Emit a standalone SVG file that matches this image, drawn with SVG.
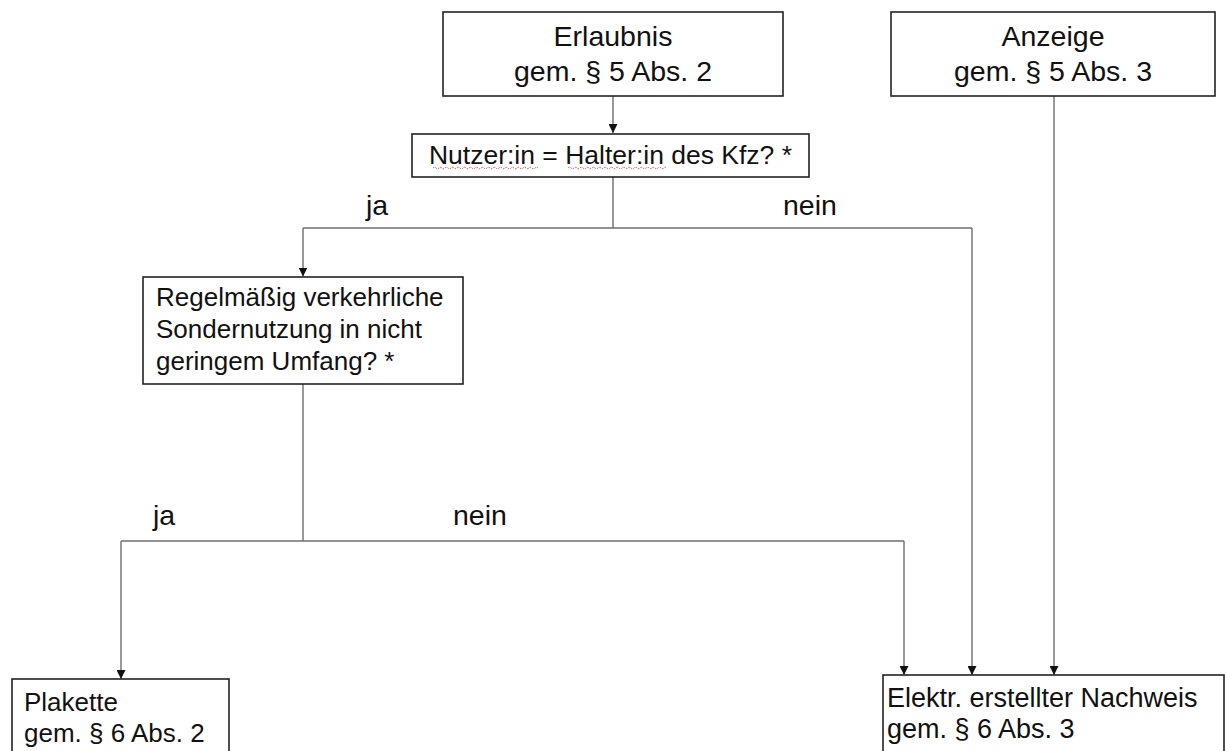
<svg xmlns="http://www.w3.org/2000/svg" width="1225" height="751" viewBox="0 0 1225 751">
<defs>
<marker id="arr" viewBox="0 0 10 10" refX="10" refY="5" markerWidth="9" markerHeight="9" markerUnits="userSpaceOnUse" orient="auto">
<path d="M0,0 L10,5 L0,10 Z" fill="#111"/>
</marker>
</defs>
<style>
.box{fill:#fff;stroke:#222;stroke-width:1.6}
.t{font-family:"Liberation Sans",Arial,sans-serif;fill:#111}
.big{font-size:28.5px}
.mid{font-size:26.5px}
.lg{font-size:27px}
.sm{font-size:26px}
.c{text-anchor:middle}
.con{fill:none;stroke:#6e6e6e;stroke-width:1.4}
.arrow{marker-end:url(#arr)}
.spell{fill:none;stroke:#e04040;stroke-width:1;stroke-dasharray:1.5 1.2}
</style>
<rect width="1225" height="751" fill="#fff"/>

<g id="connectors">
<path class="con arrow" d="M613,96 V133"/>
<path class="con" d="M613,177 V228"/>
<path class="con" d="M303,228 H972"/>
<path class="con arrow" d="M303,228 V276.5"/>
<path class="con arrow" d="M972,228 V675"/>
<path class="con" d="M303,384 V541"/>
<path class="con" d="M121,541 H904"/>
<path class="con arrow" d="M121,541 V679"/>
<path class="con arrow" d="M904,541 V675"/>
<path class="con arrow" d="M1054,96 V675"/>
</g>

<g id="labels">
<text class="t big" x="366" y="215">ja</text>
<text class="t big" x="783" y="215">nein</text>
<text class="t big" x="153" y="525">ja</text>
<text class="t big" x="453" y="525">nein</text>
</g>

<g id="erlaubnis">
<rect class="box" x="443" y="12" width="340" height="84"/>
<text class="t big c" x="613" y="46">Erlaubnis</text>
<text class="t big c" x="613" y="81">gem. § 5 Abs. 2</text>
</g>

<g id="anzeige">
<rect class="box" x="891" y="12" width="324" height="84"/>
<text class="t big c" x="1053" y="46">Anzeige</text>
<text class="t big c" x="1053" y="81">gem. § 5 Abs. 3</text>
</g>

<g id="nutzer">
<rect class="box" x="412" y="134" width="397" height="43"/>
<text class="t mid c" x="610.5" y="164">Nutzer:in = Halter:in des Kfz? *</text>
<path class="spell" d="M433,168 q1.5,-1.5 3,0 t3,0 t3,0 t3,0 t3,0 t3,0 t3,0 t3,0 t3,0 t3,0 t3,0 t3,0 t3,0 t3,0 t3,0 t3,0 t3,0 t3,0 t3,0 t3,0 t3,0 t3,0 t3,0 t3,0 t3,0 t3,0 t3,0 t3,0 t3,0 t3,0 t3,0 t3,0 t3,0 t3,0 t3,0"/>
<path class="spell" d="M568,168 q1.5,-1.5 3,0 t3,0 t3,0 t3,0 t3,0 t3,0 t3,0 t3,0 t3,0 t3,0 t3,0 t3,0 t3,0 t3,0 t3,0 t3,0 t3,0 t3,0 t3,0 t3,0 t3,0 t3,0 t3,0 t3,0 t3,0 t3,0 t3,0 t3,0 t3,0 t3,0 t3,0 t3,0 t3,0"/>
</g>

<g id="regelmaessig">
<rect class="box" x="143" y="277" width="320" height="107"/>
<text class="t sm" x="156" y="306">Regelmäßig verkehrliche</text>
<text class="t sm" x="156" y="338">Sondernutzung in nicht</text>
<text class="t sm" x="156" y="370">geringem Umfang? *</text>
</g>

<g id="plakette">
<rect class="box" x="12" y="679" width="217" height="90"/>
<text class="t sm" x="24" y="711">Plakette</text>
<text class="t sm" x="24" y="742">gem. § 6 Abs. 2</text>
</g>

<g id="nachweis">
<rect class="box" x="883" y="675" width="341" height="94"/>
<text class="t lg" x="887" y="707">Elektr. erstellter Nachweis</text>
<text class="t lg" x="887" y="738">gem. § 6 Abs. 3</text>
</g>
</svg>
